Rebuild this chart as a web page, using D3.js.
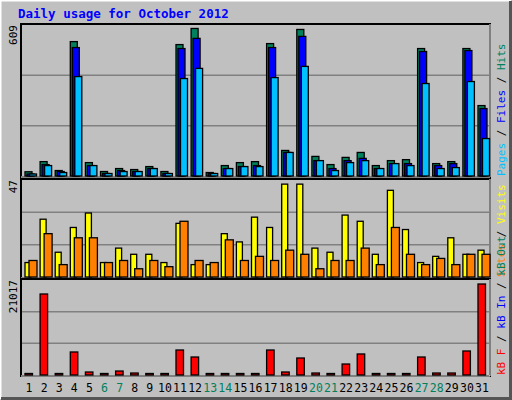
<!DOCTYPE html>
<html><head><meta charset="utf-8">
<script src="https://cdn.jsdelivr.net/npm/d3@7"></script>
<style>body{margin:0;background:#fff}svg{display:block}text{font-family:"DejaVu Sans Mono",monospace}</style>
</head><body>
<script>
// daily values for October 2012
const days = d3.range(1, 32);
const weekends = [6, 7, 13, 14, 20, 21, 27, 28];
const hits  = [17,58,22,542,54,18,30,26,38,18,530,595,14,42,54,58,534,103,591,79,46,75,95,42,62,66,514,50,58,514,284];
const files = [8,46,18,518,42,10,22,18,30,10,514,555,10,30,38,42,518,95,563,62,30,62,71,30,50,50,502,42,50,506,272];
const pages = [8,42,14,401,42,10,18,18,30,10,393,434,10,30,38,38,397,95,442,62,22,54,62,30,50,42,373,30,34,381,151];
const visits = [7,28,12,24,31,7,14,11,11,7,26,6,6,21,17,29,24,45,45,14,12,30,27,11,42,23,7,10,19,11,13];
const sites  = [8,21,6,19,19,7,8,4,8,5,27,8,7,18,8,10,8,13,11,4,8,8,14,6,24,11,6,9,6,11,11];
const kbytes = [0,17920,0,5090,660,0,880,440,0,0,5530,3980,0,0,0,0,5530,660,3760,440,0,2430,4650,0,0,0,3980,440,440,5310,20130];
const maxHits = 609, maxVisits = 47, maxKB = 21017;

const W = 512, H = 400;
const svg = d3.select("body").append("svg").attr("width", W).attr("height", H);

// bevelled frame
svg.append("rect").attr("width", W).attr("height", H).attr("fill", "#c0c0c0");
svg.append("path").attr("d", `M0.5,${H-1}V0.5H${W-1}`).attr("stroke", "#fff").attr("fill", "none").attr("stroke-width", 2);
svg.append("path").attr("d", `M1,${H-1.5}H${W-1.5}V1`).attr("stroke", "#555").attr("fill", "none").attr("stroke-width", 3);

svg.append("text").attr("x", 18).attr("y", 18).attr("fill", "#0000ff")
  .attr("font-weight", "bold").attr("font-size", 12.5).text("Daily usage for October 2012");

const x0 = 21, x1 = 490;
const x = d3.scaleLinear().domain([1, 32]).range([x0, x0 + 15.1 * 31]);

function panel(top, bottom, max, label) {
  const y = d3.scaleLinear().domain([0, max]).range([bottom, top]);
  svg.append("rect").attr("x", x0).attr("y", top - 1).attr("width", x1 - x0).attr("height", bottom - top + 2)
    .attr("fill", "#c0c0c0").attr("stroke", "#000").attr("stroke-width", 2);
  svg.append("path").attr("d", `M${x0},${bottom+1}H${x1}V${top-1}`).attr("stroke", "#fff").attr("fill", "none");
  [1 / 3, 2 / 3].forEach(f => {
    svg.append("line").attr("x1", x0 + 1).attr("x2", x1 - 1)
      .attr("y1", y(max * f)).attr("y2", y(max * f)).attr("stroke", "#808080").attr("stroke-width", 1.5);
  });
  svg.append("text").attr("transform", `translate(${x0 - 4},${top}) rotate(-90)`)
    .attr("text-anchor", "end").attr("font-size", 11).attr("fill", "#000").text(label);
  return y;
}

function bars(y, data, off, w, color) {
  svg.append("g").selectAll("rect").data(data).enter().append("rect")
    .attr("x", (d, i) => x(days[i]) + off).attr("width", w)
    .attr("y", d => Math.min(y(d), y(0) - 1.5)).attr("height", d => Math.max(y(0) - y(d), 1.5))
    .attr("fill", color).attr("stroke", "#000").attr("stroke-width", 1.3);
}

function sideLabel(bottom, parts) {
  const t = svg.append("text").attr("transform", `translate(505,${bottom}) rotate(-90)`).attr("font-size", 11);
  parts.forEach(p => t.append("tspan").attr("fill", p[1]).text(p[0]));
}

// hits / files / pages
const yTop = panel(25, 176, maxHits, "609");
bars(yTop, hits, 4, 7, "#00805c");
bars(yTop, files, 6, 7, "#0000ff");
bars(yTop, pages, 8.5, 7, "#00c0ff");
sideLabel(176, [["Pages", "#00c0ff"], [" / ", "#000"], ["Files", "#0000ff"], [" / ", "#000"], ["Hits", "#00805c"]]);

// visits / sites
const yMid = panel(180, 277, maxVisits, "47");
bars(yMid, visits, 4, 6, "#ffff00");
bars(yMid, sites, 8, 8, "#ff8000");
sideLabel(277, [["Sites", "#ff8000"], [" / ", "#000"], ["Visits", "#ffff00"]]);

// kbytes
const yBot = panel(280, 375, maxKB, "21017");
bars(yBot, kbytes, 4, 7.5, "#ff0000");
sideLabel(375, [["kB F", "#ff0000"], [" / ", "#000"], ["kB In", "#0000ff"], [" / ", "#000"], ["kB Out", "#00805c"]]);

// day labels
svg.append("g").selectAll("text").data(days).enter().append("text")
  .attr("x", d => x(d) + 8).attr("y", 392).attr("text-anchor", "middle").attr("font-size", 11.5)
  .attr("fill", d => weekends.includes(d) ? "#00805c" : "#000").text(d => d);
</script>
</body></html>
